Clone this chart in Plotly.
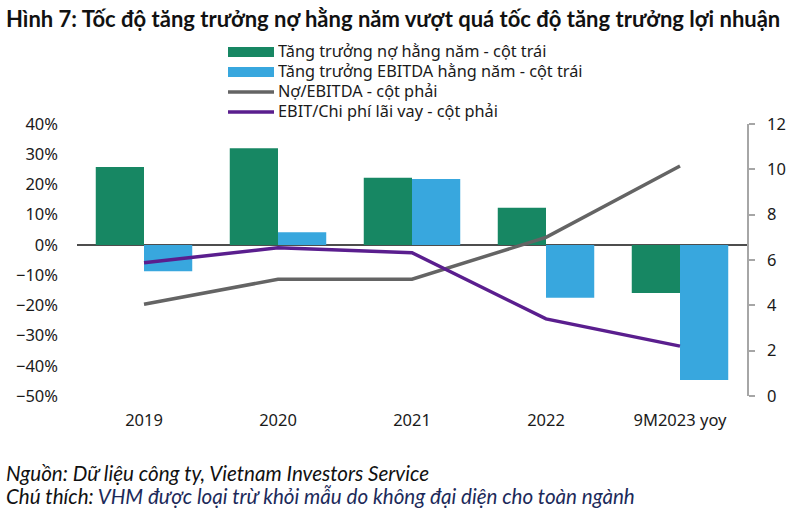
import plotly.graph_objects as go

categories = ["2019", "2020", "2021", "2022", "9M2023 yoy"]
debt_growth = [25.8, 32.0, 22.2, 12.3, -15.9]
ebitda_growth = [-8.7, 4.2, 21.8, -17.5, -44.7]
debt_ebitda = [4.05, 5.15, 5.15, 7.0, 10.15]
ebit_interest = [5.88, 6.54, 6.32, 3.4, 2.2]

names = [
    "Tăng trưởng nợ hằng năm - cột trái",
    "Tăng trưởng EBITDA hằng năm - cột trái",
    "Nợ/EBITDA - cột phải",
    "EBIT/Chi phí lãi vay - cột phải",
]
colors = ["#178763", "#38A7DE", "#646464", "#5A1E8E"]

fig = go.Figure()
fig.add_trace(go.Bar(x=categories, y=debt_growth, name=names[0], showlegend=False,
                     marker=dict(color=colors[0], line=dict(width=0))))
fig.add_trace(go.Bar(x=categories, y=ebitda_growth, name=names[1], showlegend=False,
                     marker=dict(color=colors[1], line=dict(width=0))))
fig.add_trace(go.Scatter(x=categories, y=debt_ebitda, name=names[2], yaxis="y2", showlegend=False,
                         mode="lines", line=dict(color=colors[2], width=3.5)))
fig.add_trace(go.Scatter(x=categories, y=ebit_interest, name=names[3], yaxis="y2", showlegend=False,
                         mode="lines", line=dict(color=colors[3], width=3.5)))

font_main = "Noto Sans"
L, R, T, B = 77, 59, 124, 121
PW, PH = 806 - L - R, 517 - T - B


def px(xpix):
    return (xpix - L) / PW


def py(ypix):
    return (517 - B - ypix) / PH


fig.update_layout(
    width=806, height=517,
    margin=dict(l=L, r=R, t=T, b=B),
    paper_bgcolor="white", plot_bgcolor="white",
    barmode="group", bargap=0.28, bargroupgap=0,
    font=dict(family=font_main, size=16, color="#1a1a1a"),
    showlegend=False,
    xaxis=dict(type="category", showgrid=False, showline=False, ticks="",
               ticklabelstandoff=12, tickfont=dict(size=16.5)),
    yaxis=dict(range=[-50, 40], dtick=10, ticksuffix="%", showgrid=False,
               showline=False, zeroline=True, zerolinecolor="#4d4d4d", zerolinewidth=1.5,
               ticks="", ticklabelstandoff=18, tickfont=dict(size=16.5)),
    yaxis2=dict(range=[0, 12], dtick=2, overlaying="y", side="right", showgrid=False,
                showline=True, linecolor="#a6a6a6", linewidth=1.5, ticks="outside",
                ticklen=6, tickcolor="#a6a6a6", tickwidth=1.5, zeroline=False,
                ticklabelstandoff=9, tickfont=dict(size=16.5)),
)

# manual legend
row_y = [52, 72, 92, 112]
for i, (nm, col) in enumerate(zip(names, colors)):
    yc = row_y[i]
    if i < 2:
        fig.add_shape(type="rect", xref="paper", yref="paper",
                      x0=px(228), x1=px(274), y0=py(yc - 5), y1=py(yc + 5),
                      fillcolor=col, line=dict(width=0))
    else:
        fig.add_shape(type="line", xref="paper", yref="paper",
                      x0=px(228), x1=px(274), y0=py(yc), y1=py(yc),
                      line=dict(color=col, width=3.5))
    fig.add_annotation(xref="paper", yref="paper", x=px(277), y=py(yc - 1), xanchor="left",
                       yanchor="middle", showarrow=False, text=nm, height=20, borderpad=0,
                       font=dict(family=font_main, size=16.3, color="#1a1a1a"))

fig.add_annotation(xref="paper", yref="paper", x=px(4), y=py(3), xanchor="left",
                   yanchor="top", showarrow=False,
                   text="<b>Hình 7: Tốc độ tăng trưởng nợ hằng năm vượt quá tốc độ tăng trưởng lợi nhuận</b>",
                   font=dict(family="Lato", size=22, color="#111"))
fig.add_annotation(xref="paper", yref="paper", x=px(4), y=py(459), xanchor="left",
                   yanchor="top", showarrow=False,
                   text="<i>Nguồn: Dữ liệu công ty, Vietnam Investors Service</i>",
                   font=dict(family="Lato", size=20.6, color="#111"))
fig.add_annotation(xref="paper", yref="paper", x=px(4), y=py(482), xanchor="left",
                   yanchor="top", showarrow=False,
                   text="<i>Chú thích: <span style='color:#1c2a5a'>VHM được loại trừ khỏi mẫu do không đại diện cho toàn ngành</span></i>",
                   font=dict(family="Lato", size=20.6, color="#111"))

fig.write_html("out.html", config={"displayModeBar": False},
               post_script="document.body.style.margin='0';")
